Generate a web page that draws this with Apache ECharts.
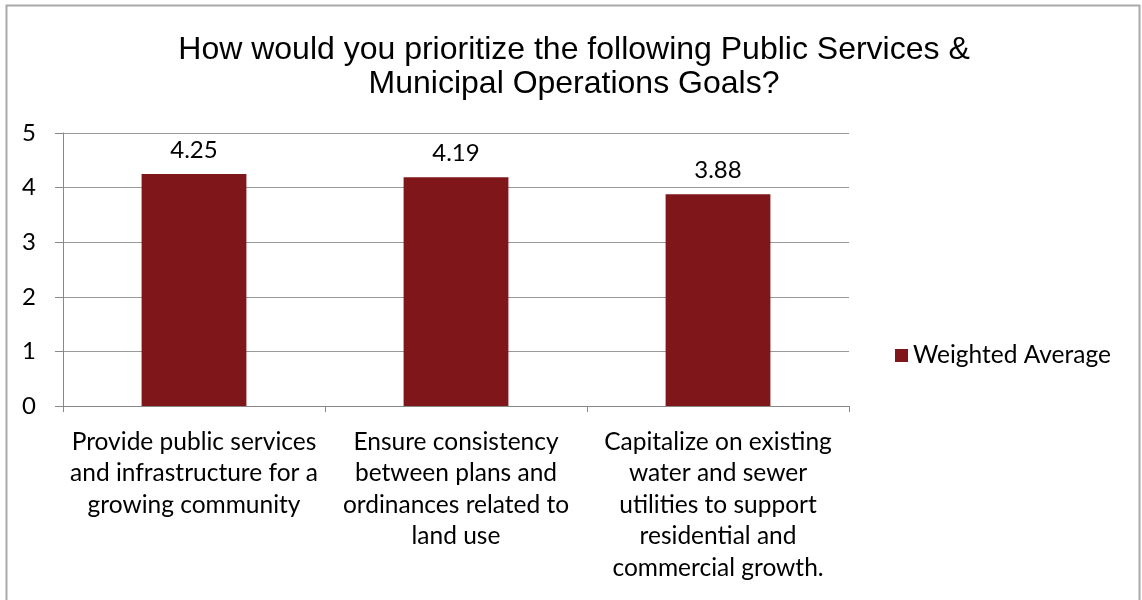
<!DOCTYPE html>
<html>
<head>
<meta charset="utf-8">
<script src="https://cdn.jsdelivr.net/npm/echarts@6/dist/echarts.min.js"></script>
<style>
  html, body { margin: 0; padding: 0; background: #fff; }
  #chart { width: 1142px; height: 600px; }
</style>
</head>
<body>
<div id="chart"></div>
<script>
// Survey priority chart: weighted average per goal.

const titleText = "How would you prioritize the following Public Services &\nMunicipal Operations Goals?";
const categories = [
  "Provide public services\nand infrastructure for a\ngrowing community",
  "Ensure consistency\nbetween plans and\nordinances related to\nland use",
  "Capitalize on existing\nwater and sewer\nutilities to support\nresidential and\ncommercial growth.",
];
const seriesName = "Weighted Average";
const weightedAverage = [4.25, 4.19, 3.88];
const yTicks = [0, 1, 2, 3, 4, 5];

const bodyFont = "Lato";
const barColor = "#7f1619";

const chart = echarts.init(document.getElementById("chart"));

chart.setOption({
  animation: false,
  backgroundColor: "#fff",
  title: {
    text: titleText,
    left: 569,
    top: 28,
    textAlign: "center",
    textStyle: {
      fontFamily: "Liberation Sans",
      fontSize: 32,
      fontWeight: "normal",
      color: "#000",
      lineHeight: 34,
    },
  },
  legend: {
    data: [seriesName],
    left: 890,
    top: 338,
    icon: "rect",
    itemWidth: 13,
    itemHeight: 13,
    itemGap: 8,
    textStyle: { fontFamily: bodyFont, fontSize: 24.5, color: "#000" },
  },
  grid: { left: 63, right: 1142 - 849, top: 133, bottom: 600 - 406 },
  xAxis: {
    type: "category",
    data: categories,
    axisLine: { lineStyle: { color: "#888", width: 1 } },
    axisTick: { show: true, length: 6, lineStyle: { color: "#888" } },
    axisLabel: {
      interval: 0,
      margin: 20,
      fontFamily: bodyFont,
      fontSize: 24.5,
      lineHeight: 31.5,
      color: "#000",
      align: "center",
    },
  },
  yAxis: {
    type: "value",
    min: yTicks[0],
    max: yTicks[yTicks.length - 1],
    interval: 1,
    axisLine: { show: true, lineStyle: { color: "#888" } },
    axisTick: { show: true, length: 8, lineStyle: { color: "#888" } },
    splitLine: { lineStyle: { color: "#999", width: 1 } },
    axisLabel: {
      margin: 27,
      fontFamily: bodyFont,
      fontSize: 24,
      color: "#000",
    },
  },
  series: [
    {
      name: seriesName,
      type: "bar",
      data: weightedAverage,
      barWidth: "40%",
      itemStyle: { color: barColor },
      label: {
        show: true,
        position: "top",
        distance: 12,
        formatter: (p) => p.value.toFixed(2),
        fontFamily: bodyFont,
        fontSize: 24,
        color: "#000",
      },
    },
  ],
  graphic: [
    {
      type: "rect",
      shape: { x: 6.5, y: 5.5, width: 1133, height: 600 },
      style: { fill: "none", stroke: "#aaa", lineWidth: 2 },
      silent: true,
    },
  ],
});
</script>
</body>
</html>
